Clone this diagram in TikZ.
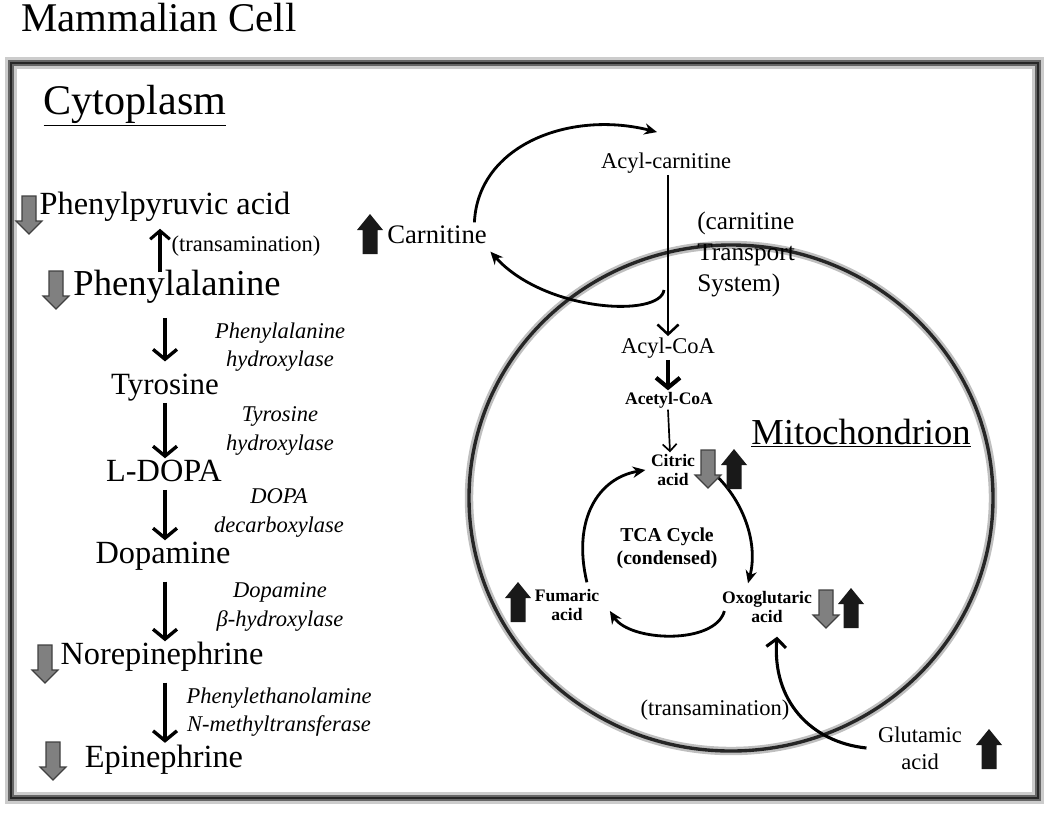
\documentclass[tikz,border=0pt]{standalone}
\usepackage{fontspec}
\setmainfont{Liberation Serif}
\usetikzlibrary{arrows.meta,positioning,calc}
\tikzset{>=latex}
\tikzset{
  met/.style={font=\fontsize{23}{27}\selectfont, inner sep=1pt, text height=15pt, text depth=5pt},
  enz/.style={font=\fontsize{16}{20}\selectfont\itshape, align=center, inner sep=1pt},
  lbl/.style={font=\fontsize{16}{19.5}\selectfont, align=center, inner sep=1pt},
  tca/.style={font=\fontsize{12.5}{14}\selectfont\bfseries, align=center, inner sep=1pt},
  mainarr/.style={line width=2.4pt, -{Straight Barb[length=7pt,width=17pt,line width=2.4pt]}},
  curvarr/.style={line width=2pt, -{Stealth[length=9pt,width=8pt]}},
  graydown/.pic={\filldraw[fill=black!50, draw=black!75, line width=0.8pt]
    (-7,-19) -- (7,-19) -- (7,6) -- (13,6) -- (0,19) -- (-13,6) -- (-7,6) -- cycle;},
  blackup/.pic={\fill[black!90]
    (-7.5,20) -- (7.5,20) -- (7.5,-4) -- (13,-4) -- (0,-20) -- (-13,-4) -- (-7.5,-4) -- cycle;},
}

\begin{document}
\begin{tikzpicture}[x=0.025cm, y=-0.025cm]
\useasboundingbox (0,0) rectangle (1050,812);

% cell border
\draw[black!20, line width=8pt] (11,63) rectangle (1038,798);
\draw[black!60, line width=4.5pt] (11,63) rectangle (1038,798);
\draw[black!85, line width=1.6pt] (11,63) rectangle (1038,798);

% mitochondrion border
\draw[black!25, line width=6pt] (731,498) ellipse [x radius=262, y radius=253];
\draw[black!85, line width=2.4pt] (731,498) ellipse [x radius=262, y radius=253];

\node[anchor=west, font=\fontsize{29}{32}\selectfont, inner sep=0] (title) at (21,18) {Mammalian Cell};
\node[font=\fontsize{30}{34}\selectfont, inner sep=0] (cyto) at (135,106) {\underline{Cytoplasm}};

% catecholamine chain
\node[met] (ppa) at (165,207) {Phenylpyruvic acid};
\node[met, font=\fontsize{26}{30}\selectfont] (phe) at (177,288) {Phenylalanine};
\node[met, font=\fontsize{22}{26}\selectfont] (tyr) at (165,387) {Tyrosine};
\node[met] (dopa) at (164,474) {L-DOPA};
\node[met] (dop) at (163,556) {Dopamine};
\node[met] (ne) at (162,657) {Norepinephrine};
\node[met] (epi) at (164,760) {Epinephrine};

\draw[line width=2.2pt, -{Straight Barb[length=6pt,width=14pt,line width=2.2pt]}]
  ($(phe.north)+(-17,0)$) -- ($(ppa.south)+(-5,6)$);
\node[lbl, anchor=west] (trans1) at (170,246) {(transamination)};

\draw[mainarr, shorten <=10pt, shorten >=7pt] (phe.south -| tyr.north) -- (tyr.north);
\draw[mainarr] (tyr.south) -- (tyr.south |- dopa.north);
\draw[mainarr] (tyr.south |- dopa.south) -- (tyr.south |- dop.north);
\draw[mainarr, shorten <=7pt] (tyr.south |- dop.south) -- (tyr.south |- ne.north);
\draw[mainarr, shorten <=7pt, shorten >=1pt] (tyr.south |- ne.south) -- (tyr.south |- epi.north);

\node[enz] (pah) at (280,347) {Phenylalanine\\hydroxylase};
\node[enz] (th) at (280,431) {Tyrosine\\hydroxylase};
\node[enz] (ddc) at (279,513) {DOPA\\decarboxylase};
\node[enz] (dbh) at (280,607) {Dopamine\\β-hydroxylase};
\node[enz] (pnmt) at (279,712) {Phenylethanolamine\\N-methyltransferase};

\pic at (29,215) {graydown};
\pic at (56,290) {graydown};
\pic at (45,664) {graydown};
\pic at (53,761) {graydown};

% carnitine shuttle
\node[font=\fontsize{19}{22}\selectfont, inner sep=1pt] (carn) at (437,235) {Carnitine};
\pic at (370,234) {blackup};
\node[lbl] (acar) at (666,163) {Acyl-carnitine};
\node[font=\fontsize{18}{22}\selectfont, align=left, anchor=north west, inner sep=0] (cts) at (697,212) {(carnitine\\Transport\\System)};
\coordinate (ret) at (664,290);

\draw[curvarr] ($(carn.north east)+(-14,-2)$) .. controls (478,145) and (570,110) .. ($(acar.north)+(-9,-19)$);
\draw[curvarr] (ret) .. controls (660,318) and (545,312) .. ($(carn.south east)+(2,6)$);

% mitochondrion
\node[lbl] (acoa) at (668,348) {Acyl-CoA};
\node[tca] (actcoa) at (669,400) {Acetyl-CoA};
\node[tca] (cit) at (673,470) {Citric\\acid};
\node[font=\fontsize{26}{30}\selectfont, inner sep=0] (mito) at (861,433) {\underline{Mitochondrion}};
\node[font=\fontsize{14}{16.5}\selectfont\bfseries, align=center, inner sep=1pt] (tcac) at (667,548) {TCA Cycle\\(condensed)};
\node[tca] (fum) at (567,605) {Fumaric\\acid};
\node[tca] (oxo) at (767,607) {Oxoglutaric\\acid};

\draw[line width=1.8pt, -{Straight Barb[length=7pt,width=15pt,line width=1.8pt]}]
  (acoa.north |- acar.south) -- (acoa.north);
\draw[line width=3pt, -{Straight Barb[length=7pt,width=17pt,line width=3pt]}]
  (acoa.south) -- (acoa.south |- actcoa.north);
\draw[line width=1.2pt, -{Straight Barb[length=5pt,width=10pt,line width=1.2pt]}]
  (acoa.south |- actcoa.south) -- ($(cit.north)+(-3,0)$);

\draw[curvarr] ($(fum.north east)+(-14,-5)$) .. controls (572,520) and (598,478) .. ($(cit.west)+(-4,0)$);
\draw[curvarr] ($(cit.east)+(22,8)$) .. controls (745,505) and (758,545) .. ($(oxo.north)+(-19,-6)$);
\draw[curvarr] ($(oxo.west)+(4,4)$) .. controls (715,645) and (630,642) .. ($(fum.east)+(9,6)$);

\pic at (708,469) {graydown};
\pic at (734,469) {blackup};
\pic at (518,602) {blackup};
\pic at (826,609) {graydown};
\pic at (851,608) {blackup};

% glutamate entry
\node[lbl] (glu) at (920,748) {Glutamic\\acid};
\pic at (989,749) {blackup};
\node[lbl, anchor=west] (trans2) at (639,710) {(transamination)};
\draw[line width=2.2pt, -{Straight Barb[length=6pt,width=14pt,line width=2.2pt]}]
  ($(glu.west)+(-10,0)$) .. controls (810,742) and (772,700) .. ($(oxo.south)+(10,12)$);
\end{tikzpicture}
\end{document}
